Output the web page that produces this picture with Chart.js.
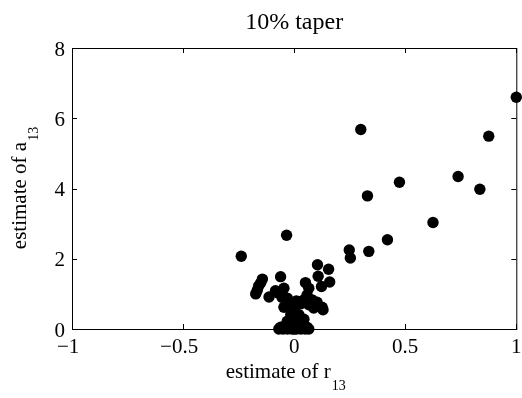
<!DOCTYPE html>
<html>
<head>
<meta charset="utf-8">
<script src="https://cdn.jsdelivr.net/npm/chart.js@4/dist/chart.umd.min.js"></script>
<style>
  html, body { margin: 0; padding: 0; background: #fff; }
  .chart-box { width: 522px; height: 398px; position: relative; }
</style>
</head>
<body>
<div class="chart-box"><canvas id="taperChart"></canvas></div>
<script>
// 데이터
const TITLE = '10% taper';
const X_TICKS = [-1, -0.5, 0, 0.5, 1];
const X_TICK_LABELS = ['\u22121', '\u22120.5', '0', '0.5', '1'];
const Y_TICKS = [0, 2, 4, 6, 8];
const Y_TICK_LABELS = ['0', '2', '4', '6', '8'];

// estimate of r13
const R13 = [
  1.0, 0.876, 0.300, 0.738, 0.836, 0.474, 0.330, 0.625, 0.420, 0.336, 0.248, 0.253, -0.034, -0.238,
  0.105, 0.155, 0.108, 0.160, 0.123,
  0.051, 0.066, 0.058, 0.081, 0.103, 0.126, 0.130, 0.088, 0.066, 0.044,
  -0.143, -0.151, -0.160, -0.166, -0.173, -0.113, -0.061, -0.084, -0.046, -0.054, -0.046, -0.070,
  -0.031, -0.016, 0.021, 0.000, -0.015, 0.021, 0.000, -0.031, 0.021, 0.044, -0.046, -0.061, 0.044, 0.058, 0.010, -0.010, 0.030, 0.010,
  -0.069, -0.050, -0.030, -0.010, 0.000, 0.010, 0.030, 0.050, 0.066
];
// estimate of a13
const A13 = [
  6.60, 5.49, 5.68, 4.34, 3.98, 4.18, 3.79, 3.03, 2.54, 2.21, 2.25, 2.02, 2.67, 2.07,
  1.83, 1.70, 1.50, 1.34, 1.21,
  1.32, 1.16, 0.97, 0.83, 0.76, 0.62, 0.55, 0.60, 0.69, 0.83,
  1.42, 1.31, 1.22, 1.10, 1.00, 0.91, 1.49, 1.09, 1.16, 0.90, 0.62, 1.02,
  0.88, 0.64, 0.78, 0.60, 0.41, 0.41, 0.30, 0.22, 0.22, 0.28, 0.07, 0.05, 0.07, 0.05, 0.12, 0.15, 0.72, 0.80,
  0, 0, 0, 0, 0, 0, 0, 0, 0
];

const FONT_FAMILY = "'Liberation Serif', 'Times New Roman', serif";
const TICK_FONT  = "21px " + FONT_FAMILY;
const TITLE_FONT = "24px " + FONT_FAMILY;
const LABEL_FONT = "21px " + FONT_FAMILY;
const SUB_FONT   = "14px " + FONT_FAMILY;
const SUB_DROP = 12;
const TICK_LEN = 5;

// 아래첨자 붙은 축 제목
function drawSubLabel(ctx, main, sub, cx, baseY){
  ctx.font = LABEL_FONT;
  const w1 = ctx.measureText(main).width;
  ctx.font = SUB_FONT;
  const w2 = ctx.measureText(sub).width;
  const x0 = cx - (w1 + w2) / 2;
  ctx.textAlign = 'left';
  ctx.textBaseline = 'alphabetic';
  ctx.font = LABEL_FONT;
  ctx.fillText(main, x0, baseY);
  ctx.font = SUB_FONT;
  ctx.fillText(sub, x0 + w1 + 1, baseY + SUB_DROP);
}

// MATLAB 스타일 박스 + 안쪽 눈금 + 라벨
const matlabFrame = {
  id: 'matlabFrame',
  beforeDatasetsDraw(chart){
    const { ctx, chartArea: a, scales: { x, y } } = chart;
    ctx.save();
    ctx.strokeStyle = '#000';
    ctx.lineWidth = 1;
    ctx.strokeRect(a.left + 0.5, a.top + 0.5, a.right - a.left, a.bottom - a.top);
    ctx.beginPath();
    X_TICKS.forEach(v => {
      const px = Math.round(x.getPixelForValue(v)) + 0.5;
      ctx.moveTo(px, a.bottom); ctx.lineTo(px, a.bottom - TICK_LEN);
      ctx.moveTo(px, a.top);    ctx.lineTo(px, a.top + TICK_LEN);
    });
    Y_TICKS.forEach(v => {
      const py = Math.round(y.getPixelForValue(v)) + 0.5;
      ctx.moveTo(a.left, py);  ctx.lineTo(a.left + TICK_LEN, py);
      ctx.moveTo(a.right, py); ctx.lineTo(a.right - TICK_LEN, py);
    });
    ctx.stroke();
    ctx.restore();
  },
  afterDraw(chart){
    const { ctx, chartArea: a, scales: { x } } = chart;
    ctx.save();
    ctx.fillStyle = '#000';

    // x 눈금 라벨: 마이너스 기호는 숫자 왼쪽에 걸치게
    ctx.font = TICK_FONT;
    ctx.textBaseline = 'alphabetic';
    X_TICKS.forEach((v, i) => {
      const px = x.getPixelForValue(v);
      const lab = X_TICK_LABELS[i];
      const neg = lab.startsWith('\u2212');
      const num = neg ? lab.slice(1) : lab;
      const w = ctx.measureText(num).width;
      let left = px - w / 2;
      if (neg) left -= ctx.measureText('\u2212').width - 2;
      ctx.textAlign = 'left';
      ctx.fillText(lab, left, a.bottom + 24);
    });

    // 제목
    ctx.font = TITLE_FONT;
    ctx.textAlign = 'center';
    ctx.fillText(TITLE, (a.left + a.right) / 2, 29);

    // 축 제목
    drawSubLabel(ctx, 'estimate of r', '13', (a.left + a.right) / 2 - 9, 378);
    ctx.translate(26, (a.top + a.bottom) / 2);
    ctx.rotate(-Math.PI / 2);
    drawSubLabel(ctx, 'estimate of a', '13', 0, 0);
    ctx.restore();
  }
};

(function(){
  const el = document.getElementById('taperChart');
  if (!el) return;
  new Chart(el, {
    type: 'scatter',
    data: {
      datasets: [{
        data: R13.map((r, i) => ({ x: r, y: A13[i] })),
        backgroundColor: '#000',
        borderWidth: 0,
        pointRadius: 5.7,
        pointHoverRadius: 5.7,
        clip: false
      }]
    },
    options: {
      responsive: true,
      maintainAspectRatio: false,
      animation: false,
      devicePixelRatio: 1,
      layout: { padding: { top: 48, right: 4, left: 0, bottom: 0 } },
      plugins: { legend: { display: false }, tooltip: { enabled: false } },
      scales: {
        x: {
          type: 'linear', min: -1, max: 1,
          grid: { display: false }, border: { display: false },
          ticks: { display: false, stepSize: 0.5 },
          afterFit: s => { s.height = 69; }
        },
        y: {
          type: 'linear', min: 0, max: 8,
          grid: { display: false, drawTicks: false }, border: { display: false },
          afterBuildTicks: s => { s.ticks = Y_TICKS.map(v => ({ value: v })); },
          ticks: {
            color: '#000', padding: 7, labelOffset: 2,
            font: { family: FONT_FAMILY, size: 21 },
            callback: (v) => Y_TICK_LABELS[Y_TICKS.indexOf(v)]
          },
          afterFit: s => { s.width = 72; }
        }
      }
    },
    plugins: [matlabFrame]
  });
})();
</script>
</body>
</html>
